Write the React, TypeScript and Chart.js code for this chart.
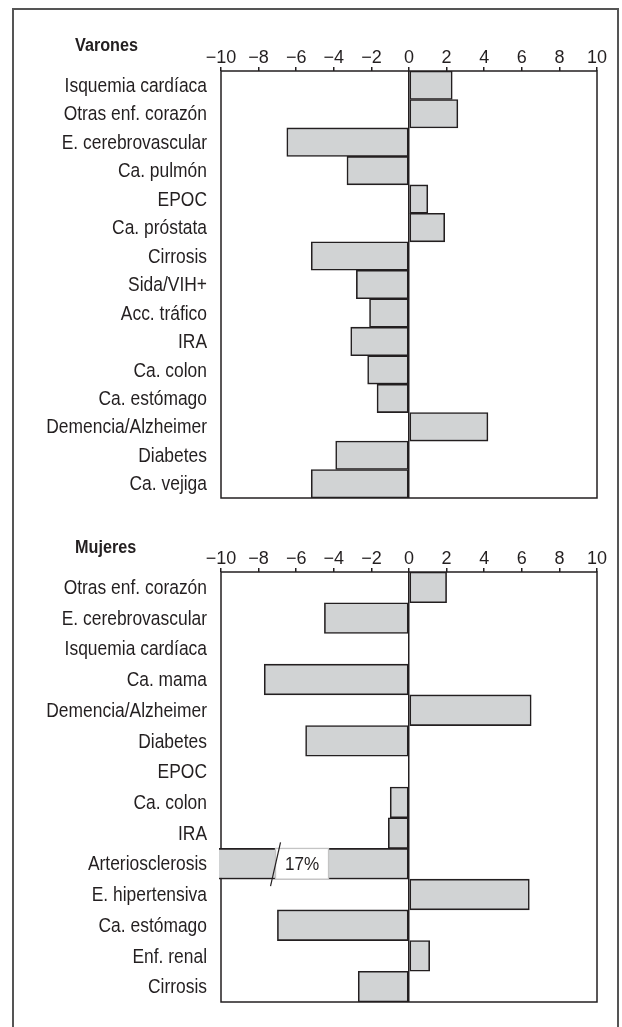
import React, { useEffect, useRef } from "react";
import { Chart, registerables } from "chart.js";

Chart.register(...registerables);

const menCategories = [
  "Isquemia cardíaca",
  "Otras enf. corazón",
  "E. cerebrovascular",
  "Ca. pulmón",
  "EPOC",
  "Ca. próstata",
  "Cirrosis",
  "Sida/VIH+",
  "Acc. tráfico",
  "IRA",
  "Ca. colon",
  "Ca. estómago",
  "Demencia/Alzheimer",
  "Diabetes",
  "Ca. vejiga",
];
const menValues = [2.3, 2.6, -6.5, -3.3, 1.0, 1.9, -5.2, -2.8, -2.1, -3.1, -2.2, -1.7, 4.2, -3.9, -5.2];

const womenCategories = [
  "Otras enf. corazón",
  "E. cerebrovascular",
  "Isquemia cardíaca",
  "Ca. mama",
  "Demencia/Alzheimer",
  "Diabetes",
  "EPOC",
  "Ca. colon",
  "IRA",
  "Arteriosclerosis",
  "E. hipertensiva",
  "Ca. estómago",
  "Enf. renal",
  "Cirrosis",
];
const womenValues = [2.0, -4.5, 0, -7.7, 6.5, -5.5, 0, -1.0, -1.1, -17, 6.4, -7.0, 1.1, -2.7];

const axisMin = -10;
const axisMax = 10;
const axisStep = 2;

const FONT = "'Liberation Sans', Arial, sans-serif";
const DARK = "#231f20";
const FILL = "#d1d3d4";
const SQUEEZE = 0.85;

const framePlugin = {
  id: "frame",
  beforeDatasetsDraw(chart: any) {
    const { ctx, chartArea } = chart;
    ctx.save();
    ctx.strokeStyle = DARK;
    ctx.lineWidth = 1.5;
    ctx.strokeRect(chartArea.left, chartArea.top, chartArea.right - chartArea.left, chartArea.bottom - chartArea.top);
    ctx.restore();
  },
};

const catLabelPlugin = {
  id: "catLabels",
  afterDraw(chart: any) {
    const ys = chart.scales.y;
    const { ctx, chartArea } = chart;
    ctx.save();
    ctx.font = `20.5px ${FONT}`;
    ctx.fillStyle = DARK;
    ctx.textAlign = "right";
    ctx.textBaseline = "middle";
    (chart.data.labels as string[]).forEach((lab, i) => {
      const y = ys.getPixelForTick(i);
      ctx.save();
      ctx.translate(chartArea.left - 14, y + 1);
      ctx.scale(SQUEEZE, 1);
      ctx.fillText(lab, 0, 0);
      ctx.restore();
    });
    ctx.restore();
  },
};

const breakPlugin = {
  id: "breakLabel",
  afterDatasetsDraw(chart: any) {
    const ds = chart.data.datasets[0].data as number[];
    const xs = chart.scales.x;
    const meta = chart.getDatasetMeta(0);
    const { ctx } = chart;
    ds.forEach((v, i) => {
      if (v >= axisMin) return;
      const bar = meta.data[i] as any;
      const h = bar.height;
      const top = bar.y - h / 2;
      const bottom = bar.y + h / 2;
      const x0 = xs.getPixelForValue(-7.1);
      const x1 = xs.getPixelForValue(-4.28);
      ctx.save();
      ctx.fillStyle = "#ffffff";
      ctx.fillRect(x0, top, x1 - x0, h);
      ctx.strokeStyle = "#c4c4c4";
      ctx.lineWidth = 1.3;
      ctx.strokeRect(x0, top, x1 - x0, h);
      ctx.fillStyle = DARK;
      ctx.font = `19px ${FONT}`;
      ctx.textAlign = "center";
      ctx.textBaseline = "middle";
      ctx.translate((x0 + x1) / 2, bar.y + 1);
      ctx.scale(0.9, 1);
      ctx.fillText(Math.abs(v) + "%", 0, 0);
      ctx.restore();
      ctx.save();
      ctx.strokeStyle = DARK;
      ctx.lineWidth = 1.2;
      ctx.beginPath();
      ctx.moveTo(x0 + 5, top - 6);
      ctx.lineTo(x0 - 5, bottom + 7);
      ctx.stroke();
      ctx.restore();
    });
  },
};

function BarChart({
  categories,
  values,
  width,
  height,
  plotLeft,
  plotTop,
  padRight,
  padBottom,
}: {
  categories: string[];
  values: number[];
  width: number;
  height: number;
  plotLeft: number;
  plotTop: number;
  padRight: number;
  padBottom: number;
}) {
  const ref = useRef<HTMLCanvasElement>(null);
  useEffect(() => {
    if (!ref.current) return;
    const chart = new Chart(ref.current, {
      type: "bar",
      data: {
        labels: categories,
        datasets: [
          {
            data: values,
            backgroundColor: FILL,
            borderColor: DARK,
            borderWidth: 1.6,
            borderSkipped: false,
            barPercentage: 1,
            categoryPercentage: 1,
            clip: { left: 2, right: 0, top: 0, bottom: 0 } as any,
          },
        ],
      },
      options: {
        indexAxis: "y",
        responsive: false,
        animation: false,
        layout: { padding: { top: 0, left: 0, right: padRight, bottom: padBottom } },
        plugins: { legend: { display: false }, tooltip: { enabled: false } },
        scales: {
          x: {
            position: "top",
            min: axisMin,
            max: axisMax,
            border: { display: false },
            grid: {
              drawTicks: true,
              tickLength: 4,
              tickColor: DARK,
              lineWidth: 1.5,
              color: (c: any) => (c.tick && c.tick.value === 0 ? DARK : "rgba(0,0,0,0)"),
            },
            ticks: {
              stepSize: axisStep,
              autoSkip: false,
              padding: -2,
              color: DARK,
              font: { family: FONT, size: 18 },
              maxRotation: 0,
              minRotation: 0,
              callback: (v: any) => (Number(v) < 0 ? "\u2212" + Math.abs(Number(v)) : String(v)),
            },
            afterFit: (s: any) => {
              s.height = plotTop;
            },
          },
          y: {
            border: { display: false },
            grid: { display: false, drawTicks: false },
            ticks: { display: false, autoSkip: false },
            afterFit: (s: any) => {
              s.width = plotLeft;
            },
          },
        },
      },
      plugins: [framePlugin, breakPlugin, catLabelPlugin],
    });
    return () => chart.destroy();
  }, []);
  return <canvas ref={ref} width={width} height={height} style={{ width, height, display: "block" }} />;
}

export default function App() {
  const titleStyle: React.CSSProperties = {
    position: "absolute",
    left: 75,
    fontFamily: FONT,
    fontWeight: "bold",
    fontSize: 18,
    color: DARK,
    lineHeight: "18px",
    transform: "scaleX(0.9)",
    transformOrigin: "left center",
    whiteSpace: "nowrap",
  };
  return (
    <div style={{ position: "absolute", left: 0, top: 0, width: 622, height: 1027, overflow: "hidden", background: "#fff" }}>
      <div
        style={{
          position: "absolute",
          left: 12,
          top: 8,
          width: 603,
          height: 1040,
          borderLeft: "2px solid #555",
          borderTop: "2px solid #555",
          borderRight: "2px solid #555",
        }}
      />
      <div style={{ position: "absolute", left: 0, top: 0 }}>
        <BarChart categories={menCategories} values={menValues} width={622} height={520} plotLeft={221} plotTop={71} padRight={25} padBottom={22} />
      </div>
      <div style={{ position: "absolute", left: 0, top: 520 }}>
        <BarChart categories={womenCategories} values={womenValues} width={622} height={507} plotLeft={221} plotTop={52} padRight={25} padBottom={25} />
      </div>
      <div style={{ ...titleStyle, top: 36 }}>Varones</div>
      <div style={{ ...titleStyle, top: 538 }}>Mujeres</div>
    </div>
  );
}
